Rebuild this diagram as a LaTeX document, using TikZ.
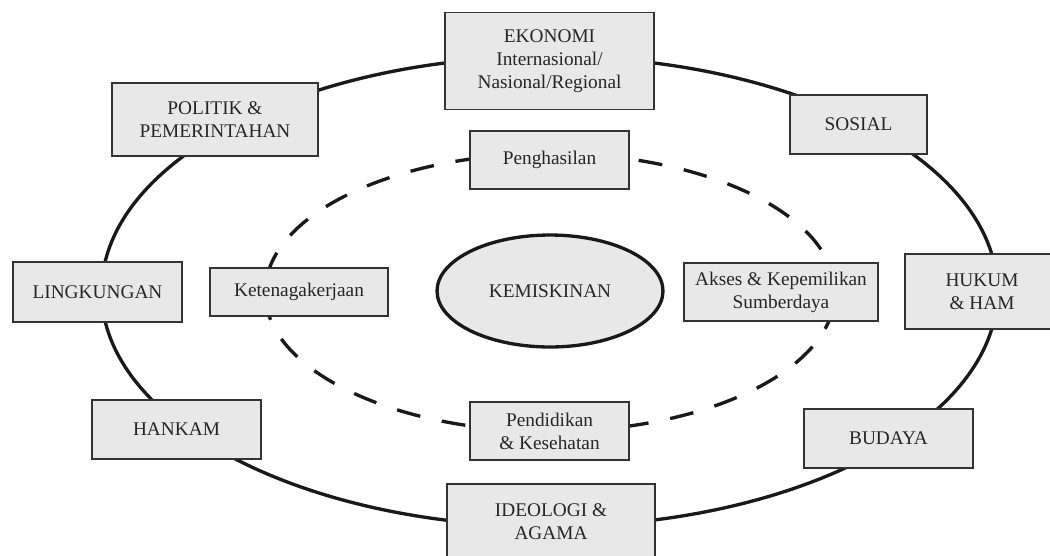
\documentclass[tikz,border=0pt]{standalone}
\usepackage{fontspec}
\setmainfont{Liberation Serif}
\usetikzlibrary{shapes.geometric}
\definecolor{boxgray}{HTML}{E8E8E8}
\begin{document}
\begin{tikzpicture}[x=0.02cm,y=-0.02cm,
  box/.style={draw=black!80, line width=1pt, fill=boxgray, text=black!85, align=center, inner sep=0pt, font=\fontsize{11}{13}\selectfont},
  ring/.style={line width=1.9pt, draw=black!90},
  dashring/.style={line width=1.9pt, draw=black!90, dash pattern=on 0.48cm off 0.44cm}]
\useasboundingbox (0,0) rectangle (1050,555);
\coordinate (outc) at (549.5,291.5);
\coordinate (inc) at (550,292.5);
\draw[ring] (outc) ellipse [x radius=8.96cm, y radius=4.7cm];
\draw[dashring] (inc) ellipse [x radius=5.7cm, y radius=2.78cm];
\node[ellipse, draw=black!90, line width=1.9pt, fill=boxgray, text=black!85, minimum width=4.52cm, minimum height=2.24cm, inner sep=0pt, font=\fontsize{11}{13}\selectfont] (kem) at (550,291) {KEMISKINAN};
\node[box, minimum width=4.18cm, minimum height=1.94cm] (eko) at (549.5,61) {EKONOMI\\Internasional/\\Nasional/Regional};
\node[box, minimum width=4.12cm, minimum height=1.46cm] (pol) at (215,119.5) {POLITIK \&\\PEMERINTAHAN};
\node[box, minimum width=2.74cm, minimum height=1.18cm] (sos) at (858.5,124.5) {SOSIAL};
\node[box, minimum width=3.18cm, minimum height=1.16cm] (pen) at (549.5,160) {Penghasilan};
\node[box, minimum width=3.38cm, minimum height=1.2cm] (lin) at (97.5,292) {LINGKUNGAN};
\node[box, minimum width=3.56cm, minimum height=0.96cm] (ket) at (299,292) {Ketenagakerjaan};
\node[box, minimum width=3.88cm, minimum height=1.16cm] (aks) at (781,292) {Akses \& Kepemilikan\\Sumberdaya};
\node[box, minimum width=3.08cm, minimum height=1.5cm] (huk) at (982,291.5) {HUKUM\\\& HAM};
\node[box, minimum width=3.38cm, minimum height=1.18cm] (han) at (176.5,429.5) {HANKAM};
\node[box, minimum width=3.18cm, minimum height=1.16cm] (pdk) at (549.5,431) {Pendidikan\\\& Kesehatan};
\node[box, minimum width=3.38cm, minimum height=1.18cm] (bud) at (888.5,438.5) {BUDAYA};
\node[box, minimum width=4.16cm, minimum height=1.52cm] (ide) at (551,522) {IDEOLOGI \&\\AGAMA};
\end{tikzpicture}
\end{document}
